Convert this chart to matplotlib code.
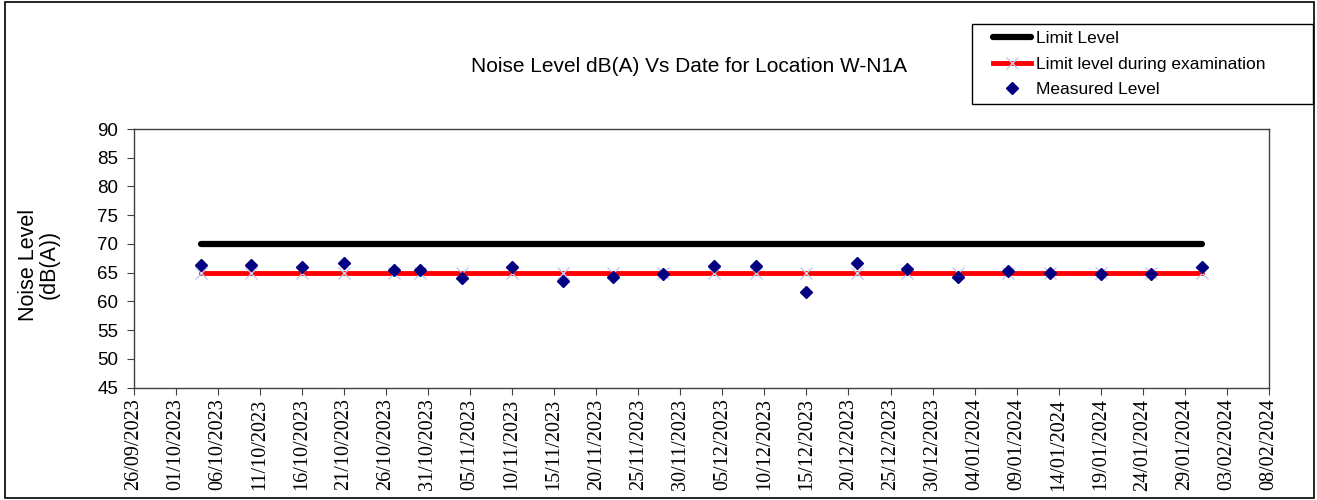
import pandas as pd
import matplotlib.pyplot as plt
import matplotlib.dates as mdates
from matplotlib.patches import Rectangle

# Measurement dates and measured noise levels at W-N1A
dates = ['04/10/2023', '10/10/2023', '16/10/2023', '21/10/2023', '27/10/2023', '30/10/2023',
         '04/11/2023', '10/11/2023', '16/11/2023', '22/11/2023', '28/11/2023', '04/12/2023',
         '09/12/2023', '15/12/2023', '21/12/2023', '27/12/2023', '02/01/2024', '08/01/2024',
         '13/01/2024', '19/01/2024', '25/01/2024', '31/01/2024']
measured = [66.4, 66.3, 66.0, 66.6, 65.4, 65.4,
            64.1, 66.0, 63.6, 64.3, 64.8, 66.1,
            66.1, 61.7, 66.6, 65.7, 64.2, 65.3,
            65.0, 64.8, 64.7, 66.0]
limit_level = 70 # dB(A)
exam_limit = 65 # dB(A) during examination period

x = pd.to_datetime(dates, format='%d/%m/%Y')
ticks = pd.date_range('2023-09-26', '2024-02-08', freq='5D')

plt.rcParams['font.family'] = 'Liberation Sans'
fig = plt.figure(figsize=(13.17, 5), dpi=100)
W, H = 1317, 500
# Outer chart frame
fig.patches.append(Rectangle((0.004, 0.004), 0.994, 0.992, transform=fig.transFigure,
                             fill=False, edgecolor='black', lw=1.2))
ax = fig.add_axes([0.1014, 0.225, 0.8622, 0.517])

ax.plot(x, [limit_level] * len(x), color='black', lw=4.5, solid_capstyle='round', label='Limit Level')
ax.plot(x, [exam_limit] * len(x), color='red', lw=3.5, marker='x', markersize=9,
        markeredgecolor='#c8c8e8', markeredgewidth=1, label='Limit level during examination')
ax.plot(x, measured, linestyle='none', marker='D', markersize=6, color='#000080', label='Measured Level')

ax.set_ylim(45, 90)
ax.set_yticks(range(45, 91, 5))
ax.set_xlim(ticks[0], ticks[-1])
ax.set_xticks(ticks)
ax.xaxis.set_major_formatter(mdates.DateFormatter('%d/%m/%Y'))
for lbl in ax.get_xticklabels():
    lbl.set_rotation(90)
    lbl.set_fontfamily('Liberation Serif')
    lbl.set_fontsize(14.5)
ax.tick_params(axis='y', labelsize=13.5, direction='out', length=5, color='#404040', pad=6)
ax.tick_params(axis='x', direction='out', length=5, color='#404040', pad=3)
for s in ax.spines.values():
    s.set_color('#404040')
    s.set_linewidth(1)

ax.set_ylabel('Noise Level\n(dB(A))', fontsize=15.5, linespacing=1.0)
ax.yaxis.set_label_coords((59 - 133) / 1136, 0.475)
fig.text(0.523, 0.868, 'Noise Level dB(A) Vs Date for Location W-N1A', ha='center', va='center', fontsize=15)

# Legend box drawn separately so the padding can be uneven
fig.patches.append(Rectangle((972 / W, 1 - 104 / H), (1313 - 972) / W, 80 / H, transform=fig.transFigure,
                             fill=False, edgecolor='black', lw=1))
leg = fig.legend(loc='upper left', bbox_to_anchor=(993 / W, 1 - 31 / H), fontsize=12.5, frameon=False,
                 handlelength=2.2, handletextpad=0.25, borderpad=0, labelspacing=0.6, borderaxespad=0)

plt.savefig('out.png', dpi=100)
